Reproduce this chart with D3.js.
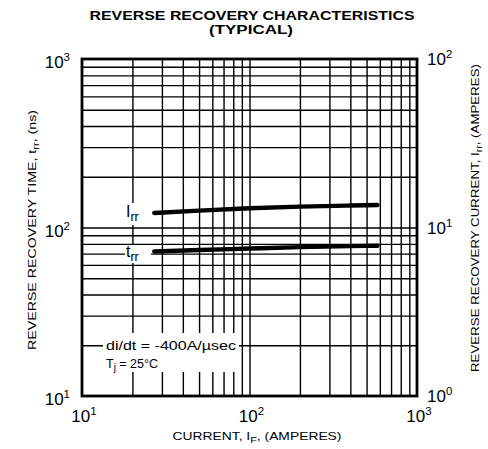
<!DOCTYPE html>
<html><head><meta charset="utf-8">
<script src="https://cdn.jsdelivr.net/npm/d3@7"></script>
<style>
body{margin:0;background:#fff;}
text{font-family:"Liberation Sans",Arial,Helvetica,sans-serif;fill:#000;}
</style></head>
<body><svg id="c" width="488" height="449"></svg>
<script>
// ---- data ----
const xDomain = [10, 1000];
const yLeftDomain = [10, 1000];
const yRightDomain = [1, 100];
const xTickExp = [1, 2, 3];
const yLeftTickExp = [1, 2, 3];
const yRightTickExp = [0, 1, 2];
const current = [27, 50, 100, 200, 400, 580];          // I_F (A)
const irrValues = [12.2, 12.6, 13.0, 13.3, 13.5, 13.6]; // I_rr (A), right axis
const trrValues = [72, 73.5, 75, 76.5, 77.5, 78];        // t_rr (ns), left axis

const L = 82, R = 417, T = 59, B = 396;
const svg = d3.select("#c");
const x = d3.scaleLog().domain(xDomain).range([L, R]);
const yL = d3.scaleLog().domain(yLeftDomain).range([B, T]);
const yR = d3.scaleLog().domain(yRightDomain).range([B, T]);

function minors(dom){
  const out=[];
  for(let d=dom[0]; d<dom[1]; d*=10){ for(let k=2;k<=9;k++) out.push(d*k); }
  return out;
}
const gridX = minors(xDomain).concat([100]);
const gridY = minors(yLeftDomain).concat([100]);

// grid via axes
const gx = svg.append("g").attr("transform",`translate(0,${B})`)
  .call(d3.axisBottom(x).tickValues(gridX).tickSize(-(B-T)).tickFormat(""));
const gy = svg.append("g").attr("transform",`translate(${L},0)`)
  .call(d3.axisLeft(yL).tickValues(gridY).tickSize(-(R-L)).tickFormat(""));
[gx,gy].forEach(g=>{
  g.select(".domain").remove();
  g.selectAll(".tick line").attr("stroke","#000").attr("stroke-width",1.4);
});

// white boxes behind in-plot texts
svg.append("rect").attr("x",103).attr("y",333).attr("width",136).attr("height",39).attr("fill","#fff");
svg.append("rect").attr("x",125).attr("y",203).attr("width",26).attr("height",22).attr("fill","#fff");
svg.append("rect").attr("x",125).attr("y",245).attr("width",26).attr("height",18).attr("fill","#fff");

// border
svg.append("rect").attr("x",L).attr("y",T).attr("width",R-L).attr("height",B-T)
  .attr("fill","none").attr("stroke","#000").attr("stroke-width",2.8);

// curves
const lineL = d3.line().x((d,i)=>x(current[i])).y(d=>yL(d)).curve(d3.curveMonotoneX);
const lineR = d3.line().x((d,i)=>x(current[i])).y(d=>yR(d)).curve(d3.curveMonotoneX);
svg.append("path").attr("d",lineR(irrValues)).attr("fill","none").attr("stroke","#000").attr("stroke-width",4.4).attr("stroke-linecap","round");
svg.append("path").attr("d",lineL(trrValues)).attr("fill","none").attr("stroke","#000").attr("stroke-width",4.4).attr("stroke-linecap","round");

// curve labels
function subLabel(xp, yp, main, sub){
  const t = svg.append("text").attr("x",xp).attr("y",yp).attr("font-size",16);
  t.append("tspan").text(main);
  t.append("tspan").attr("dy",4).attr("font-size",12.5).text(sub);
}
subLabel(126, 217, "I", "rr");
subLabel(126, 257, "t", "rr");

// annotation
svg.append("text").attr("x",106).attr("y",350).attr("font-size",12.5).attr("textLength",130).attr("lengthAdjust","spacingAndGlyphs").text("di/dt = -400A/µsec");
const tj = svg.append("text").attr("x",106).attr("y",368).attr("font-size",12.5);
tj.append("tspan").text("T");
tj.append("tspan").attr("dy",3).attr("font-size",10).text("j");
tj.append("tspan").attr("dy",-3).text(" = 25°C");

// tick labels
function powLabel(xp, yp, exp, anchor){
  const t = svg.append("text").attr("x",xp).attr("y",yp).attr("font-size",17).attr("text-anchor",anchor);
  t.append("tspan").text("10");
  t.append("tspan").attr("dy",-7).attr("font-size",11.5).text(exp);
}
yLeftTickExp.forEach(e=>powLabel(70, yL(Math.pow(10,e))+9, e, "end"));
yRightTickExp.forEach(e=>powLabel(427, yR(Math.pow(10,e))+6, e, "start"));
xTickExp.forEach(e=>powLabel(x(Math.pow(10,e))+2, 422, e, "middle"));

// titles
svg.append("text").attr("x",252).attr("y",20).attr("text-anchor","middle").attr("font-size",13)
  .attr("font-weight","bold").attr("textLength",325).attr("lengthAdjust","spacingAndGlyphs")
  .text("REVERSE RECOVERY CHARACTERISTICS");
svg.append("text").attr("x",251).attr("y",34).attr("text-anchor","middle").attr("font-size",13)
  .attr("font-weight","bold").attr("textLength",84).attr("lengthAdjust","spacingAndGlyphs")
  .text("(TYPICAL)");

const xt = svg.append("text").attr("x",257).attr("y",440).attr("text-anchor","middle").attr("font-size",11.5)
  .attr("textLength",169).attr("lengthAdjust","spacingAndGlyphs");
xt.append("tspan").text("CURRENT, I");
xt.append("tspan").attr("dy",3).attr("font-size",9).text("F");
xt.append("tspan").attr("dy",-3).text(", (AMPERES)");

const yt = svg.append("text").attr("transform","translate(36,230) rotate(-90)").attr("text-anchor","middle").attr("font-size",11.5)
  .attr("textLength",240).attr("lengthAdjust","spacingAndGlyphs");
yt.append("tspan").text("REVERSE RECOVERY TIME, t");
yt.append("tspan").attr("dy",3).attr("font-size",9).text("rr");
yt.append("tspan").attr("dy",-3).text(", (ns)");

const yr = svg.append("text").attr("transform","translate(479,218) rotate(-90)").attr("text-anchor","middle").attr("font-size",11.5)
  .attr("textLength",308).attr("lengthAdjust","spacingAndGlyphs");
yr.append("tspan").text("REVERSE RECOVERY CURRENT, I");
yr.append("tspan").attr("dy",3).attr("font-size",9).text("rr");
yr.append("tspan").attr("dy",-3).text(", (AMPERES)");
</script></body></html>
